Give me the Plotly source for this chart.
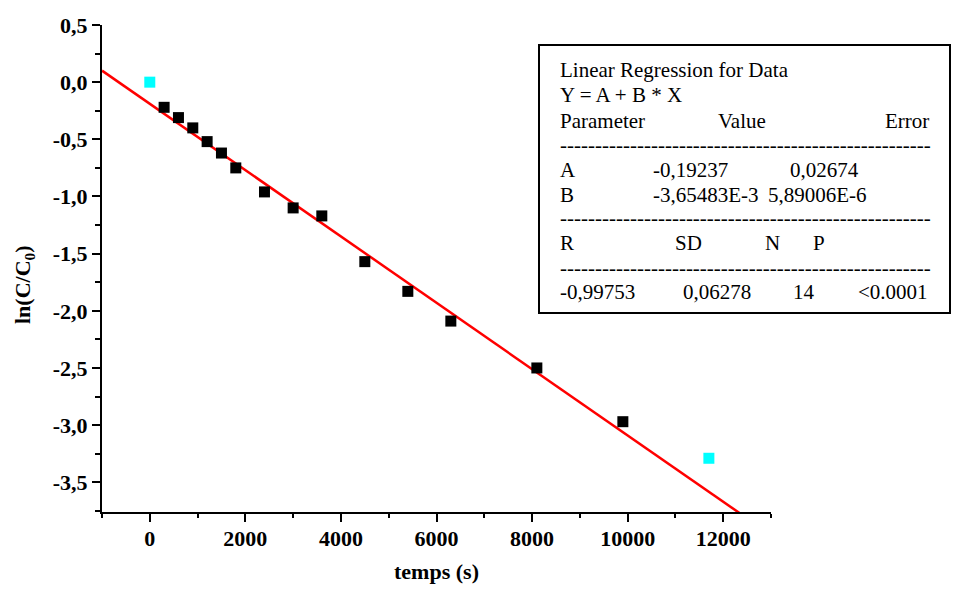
import numpy as np
import plotly.graph_objects as go

# ---- data ----
time_s = [300, 600, 900, 1200, 1500, 1800, 2400, 3000, 3600, 4500, 5400, 6300, 8100, 9900]
ln_ratio = [-0.22, -0.31, -0.40, -0.52, -0.62, -0.75, -0.96, -1.10, -1.17, -1.57, -1.83, -2.09, -2.50, -2.97]
excluded_time = [0, 11700]
excluded_ln = [0.0, -3.29]

x_tick_vals = [0, 2000, 4000, 6000, 8000, 10000, 12000]
x_tick_labels = ["0", "2000", "4000", "6000", "8000", "10000", "12000"]
y_tick_vals = [0.5, 0.0, -0.5, -1.0, -1.5, -2.0, -2.5, -3.0, -3.5]
y_tick_labels = ["0,5", "0,0", "-0,5", "-1,0", "-1,5", "-2,0", "-2,5", "-3,0", "-3,5"]

x_range = [-1000, 13000]
y_range = [-3.76, 0.5]

# regression box content
box_title = ["Linear Regression for Data", "Y = A + B * X"]
param_header = ["Parameter", "Value", "Error"]
param_rows = [["A", "-0,19237", "0,02674"], ["B", "-3,65483E-3", "5,89006E-6"]]
stat_header = ["R", "SD", "N", "P"]
stat_values = ["-0,99753", "0,06278", "14", "<0.0001"]

# linear fit of the retained points
slope, intercept = np.polyfit(time_s, ln_ratio, 1)
fit_x = np.array(x_range, dtype=float)
fit_y = intercept + slope * fit_x

SERIF = "Liberation Serif"
OFF = 8                      # default page margin of the html body
W, H = 963 - 2 * OFF, 592 - 2 * OFF
PLOT_L, PLOT_R, PLOT_T, PLOT_B = 102, 771, 25, 512   # plot area in screen pixels
L, T = PLOT_L - OFF, PLOT_T - OFF
R, B = W - (PLOT_R - OFF), H - (PLOT_B - OFF)
PW, PH = PLOT_R - PLOT_L, PLOT_B - PLOT_T


def px(x):
    return (x - PLOT_L) / PW


def py(y):
    return (PLOT_B - y) / PH


fig = go.Figure()
fig.add_trace(go.Scatter(x=fit_x, y=fit_y, mode="lines",
                         line=dict(color="#ff0000", width=2.5), showlegend=False))
fig.add_trace(go.Scatter(x=time_s, y=ln_ratio, mode="markers",
                         marker=dict(symbol="square", size=11, color="black", line=dict(width=0)),
                         showlegend=False))
fig.add_trace(go.Scatter(x=excluded_time, y=excluded_ln, mode="markers",
                         marker=dict(symbol="square", size=11, color="#00ffff", line=dict(width=0)),
                         showlegend=False))

axis_common = dict(showgrid=False, zeroline=False, showline=True, linecolor="black", linewidth=2,
                   ticks="outside", ticklen=8, tickwidth=2, tickcolor="black", mirror=False,
                   tickfont=dict(family=SERIF, size=22, color="black", weight="bold"))

fig.update_xaxes(range=x_range, tickmode="array", tickvals=x_tick_vals, ticktext=x_tick_labels,
                 ticklabelstandoff=-2,
                 minor=dict(tickmode="linear", tick0=-1000, dtick=2000, ticks="outside", ticklen=4,
                            tickwidth=2, tickcolor="black"),
                 title=dict(text="temps (s)", font=dict(family=SERIF, size=22, color="black", weight="bold"),
                            standoff=22),
                 **axis_common)
fig.update_yaxes(range=y_range, tickmode="array", tickvals=y_tick_vals, ticktext=y_tick_labels,
                 minor=dict(tickmode="linear", tick0=0.25, dtick=0.5, ticks="outside", ticklen=5,
                            tickwidth=2, tickcolor="black"),
                 **axis_common)

annotations = []
# y axis title
annotations.append(dict(x=px(24), y=py(285), xref="paper", yref="paper", text="ln(C/C<sub>0</sub>)",
                        textangle=-90, showarrow=False, xanchor="center", yanchor="middle",
                        font=dict(family=SERIF, size=22, color="black", weight="bold")))


def box_text(text, x, y, anchor="left"):
    annotations.append(dict(x=px(x), y=py(y), xref="paper", yref="paper", text=text, showarrow=False,
                            xanchor=anchor, yanchor="middle", xshift=-2 if anchor == "left" else 2,
                            font=dict(family=SERIF, size=21, color="black")))


dashes = "-" * 53
box_text(box_title[0], 560, 70)
box_text(box_title[1], 560, 95)
box_text(param_header[0], 560, 121)
box_text(param_header[1], 718, 121)
box_text(param_header[2], 929, 121, "right")
box_text(dashes, 560, 145)
for i, row in enumerate(param_rows):
    yy = 170 + 25 * i
    box_text(row[0], 560, yy)
    box_text(row[1], 653, yy)
    box_text(row[2], 790 if i == 0 else 768, yy)
box_text(dashes, 560, 218)
for lbl, xx in zip(stat_header, [560, 675, 765, 813]):
    box_text(lbl, xx, 243)
box_text(dashes, 560, 268)
for val, xx in zip(stat_values, [560, 683, 793, 858]):
    box_text(val, xx, 292)

fig.add_shape(type="rect", xref="paper", yref="paper", x0=px(539), x1=px(950), y0=py(313), y1=py(45),
              line=dict(color="black", width=2), fillcolor="white", layer="below")

fig.update_layout(width=W, height=H, margin=dict(l=L, r=R, t=T, b=B, autoexpand=False),
                  paper_bgcolor="white", plot_bgcolor="white", annotations=annotations,
                  font=dict(family=SERIF, color="black"))

fig.write_html("out.html")
